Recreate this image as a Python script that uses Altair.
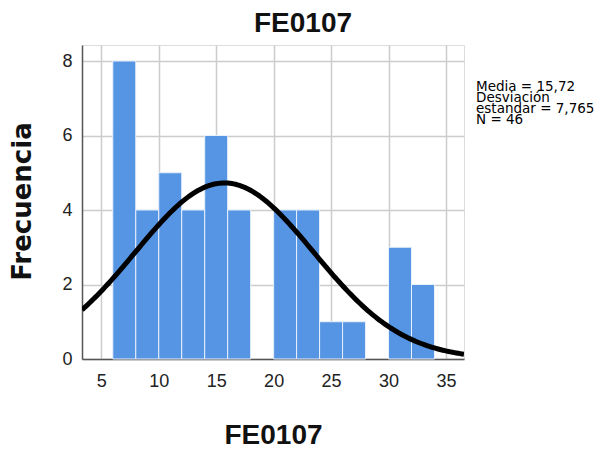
import altair as alt
import pandas as pd
import numpy as np

bin_start = [6, 8, 10, 12, 14, 16, 18, 20, 22, 24, 26, 28, 30, 32]
bin_width = 2
counts = [8, 4, 5, 4, 6, 4, 0, 4, 4, 1, 1, 0, 3, 2]
mean_val = 15.72
sd_val = 7.765
n_val = 46
x_ticks = [5, 10, 15, 20, 25, 30, 35]
y_ticks = [0, 2, 4, 6, 8]
stats_lines = ["Media = 15,72", " Desviación", "estandar = 7,765", "N = 46"]
chart_title = "FE0107"
x_title = "FE0107"
y_title = "Frecuencia"

x_dom = [3.32, 36.57]
y_dom = [0, 8.43]

bars = pd.DataFrame({
    "start": bin_start,
    "end": [b + bin_width for b in bin_start],
    "count": counts,
})
bars = bars[bars["count"] > 0]

xs = np.linspace(x_dom[0], x_dom[1], 200)
curve = pd.DataFrame({
    "x": xs,
    "y": n_val * bin_width / (sd_val * np.sqrt(2 * np.pi)) * np.exp(-0.5 * ((xs - mean_val) / sd_val) ** 2),
})

W, H = 382, 314
xs_scale = alt.Scale(domain=x_dom, nice=False, zero=False)
ys_scale = alt.Scale(domain=y_dom, nice=False)

common = dict(grid=True, ticks=False, labelFontSize=18, labelColor="#222222",
              gridColor="#cccccc", gridWidth=1.5, domainColor="#555555", domainWidth=1.5,
              labelFont="Liberation Sans", titleFontWeight="bold", titleColor="#111111",
              titleAlign="center")

x_axis = alt.Axis(values=x_ticks, title=x_title, labelPadding=13, titleX=191, titleY=84,
                  titleBaseline="alphabetic", titleFont="Liberation Sans", titleFontSize=28,
                  **common)
y_axis = alt.Axis(values=y_ticks, title=y_title, labelPadding=10, titleX=-60, titleY=156,
                  titleAngle=270, titleBaseline="middle", titleFont="DejaVu Sans",
                  titleFontSize=26, **common)

bar_layer = alt.Chart(bars).mark_bar(color="#5595e3", stroke="#e8f0fb", strokeWidth=1).encode(
    x=alt.X("start:Q", scale=xs_scale, axis=x_axis),
    x2="end:Q",
    y=alt.Y("count:Q", scale=ys_scale, axis=y_axis),
    y2=alt.datum(0),
)

line_layer = alt.Chart(curve).mark_line(color="black", strokeWidth=5, clip=True).encode(
    x=alt.X("x:Q", scale=xs_scale),
    y=alt.Y("y:Q", scale=ys_scale),
)

stats_layer = alt.Chart(pd.DataFrame({"t": [stats_lines]})).mark_text(
    align="left", baseline="top", fontSize=13.5, lineHeight=11, font="DejaVu Sans",
    color="black"
).encode(x=alt.value(394), y=alt.value(35), text="t")

chart = alt.layer(bar_layer, line_layer, stats_layer).properties(
    width=W, height=H,
    title=alt.TitleParams(chart_title, anchor="middle", dx=30, offset=7, fontSize=28,
                          fontWeight="bold", font="Liberation Sans", color="#111111"),
    autosize=alt.AutoSizeParams(type="none"),
    padding={"left": 74, "top": 37, "right": 132, "bottom": 85},
).configure_view(stroke=None).configure(background="white")

chart.save("out.html", embed_options={"renderer": "svg", "actions": False})
